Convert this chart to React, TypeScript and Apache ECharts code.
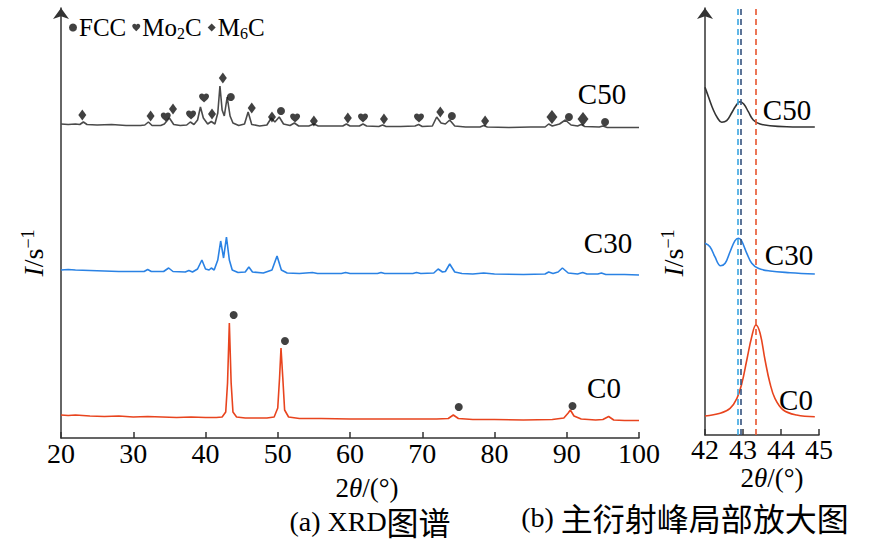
import * as echarts from "echarts";
import { useEffect, useRef } from "react";

const SERIF = "Liberation Serif";
const CJK = "Noto Sans CJK SC";

// full pattern, [2θ, intensity incl. vertical offset]
const c50Full: [number, number][] = [
  [20, 314], [21, 313.5], [22, 314], [22.6, 313.5], [23.1, 316], [23.6, 313.5], [25, 313], [27, 313.5],
  [29, 312.5], [31, 312.5], [31.6, 313], [32.1, 316], [32.6, 312.5], [33.8, 312.5], [34.3, 314], [35.0, 320],
  [35.6, 313.5], [36.5, 312.5], [37.4, 313], [37.9, 316], [38.4, 313.5], [38.9, 318], [39.3, 331], [39.7, 320],
  [40.3, 314], [40.8, 316.5], [41.3, 314], [41.7, 325], [42.0, 352], [42.3, 328], [42.6, 322], [43.0, 341],
  [43.4, 322], [43.8, 315], [44.6, 312.5], [45.4, 314], [45.9, 326], [46.4, 313.5], [47.5, 312], [48.5, 313],
  [49.1, 320], [49.6, 316], [50.2, 321], [50.8, 314], [51.7, 312.5], [52.3, 315], [52.9, 312], [54.3, 312],
  [55.0, 314], [55.6, 312], [57, 312], [59, 312], [59.5, 314], [60, 312], [61.3, 312], [61.8, 314],
  [62.3, 312], [64.0, 311.5], [64.5, 313], [65.0, 311.5], [67, 311.5], [69, 312], [69.5, 313.5], [70.0, 311.5],
  [71.4, 312], [72.0, 321], [72.6, 315], [73.2, 314], [73.8, 318], [74.5, 312], [76, 311], [78, 311],
  [78.5, 312.5], [79, 311], [82, 310.5], [85, 311], [87.0, 311], [87.5, 314], [88.0, 312], [89.0, 314],
  [89.8, 318], [90.6, 313], [91.5, 312], [92.0, 313.5], [92.5, 311.5], [94.5, 311], [95.0, 312], [95.6, 310.5],
  [98, 310.5], [100, 310.5],
];

const c30Full: [number, number][] = [
  [20, 168], [21, 168.5], [22, 168], [24, 167.5], [26, 167], [28, 166.5], [30, 166.5], [31.5, 166.5],
  [32.0, 168.5], [32.5, 166.5], [34.2, 166.5], [34.9, 170], [35.5, 166.5], [37.2, 166], [37.7, 167.5], [38.2, 166],
  [38.9, 169], [39.5, 178], [40.0, 169], [40.5, 168], [40.8, 170], [41.2, 168], [41.7, 178], [42.1, 197],
  [42.5, 180], [42.9, 201], [43.3, 178], [43.7, 168], [44.5, 165.5], [45.5, 166], [46.0, 171], [46.5, 166],
  [48, 165], [49.2, 168], [49.9, 182], [50.5, 168], [51.3, 165], [53, 164.5], [54.8, 165.5], [55.5, 164.5],
  [58.8, 164.5], [59.4, 165.5], [60, 164.5], [63.8, 164.5], [64.3, 165.5], [64.8, 164.5], [68.7, 164.5], [69.2, 165.5],
  [69.8, 164.5], [71.6, 165], [72.2, 169], [72.8, 166], [73.2, 166.5], [73.8, 174], [74.5, 166], [75.5, 164.5],
  [77, 164], [78.5, 165], [80, 164], [84, 163.5], [87.0, 164], [87.5, 166], [88.1, 164.5], [88.8, 166],
  [89.4, 170], [90.2, 165], [91.5, 164], [92.2, 165.5], [92.8, 164], [94.3, 164], [94.8, 165], [95.4, 163.5],
  [98, 163.5], [100, 163],
];

const c0Full: [number, number][] = [
  [20, 23], [21, 22.5], [22, 23], [24, 22], [26, 21.5], [28, 22], [30, 21], [32, 21.5],
  [34, 21], [36, 20.5], [38, 21], [40, 20.5], [41.5, 20.5], [42.3, 21], [42.8, 26], [43.05, 55],
  [43.3, 115], [43.55, 55], [43.8, 26], [44.3, 21], [45.5, 20], [47, 20], [48.5, 20], [49.5, 21],
  [50.0, 30], [50.25, 60], [50.45, 90], [50.7, 60], [50.95, 28], [51.5, 21], [53, 19.5], [56, 19.5],
  [60, 19], [64, 19], [68, 19], [72, 19], [73.6, 19.5], [74.3, 23], [75, 19.5], [77, 18.5],
  [80, 18.5], [84, 18], [88, 18.5], [89.6, 20], [90.2, 25], [90.5, 28], [91.0, 22], [92, 19],
  [94, 18], [95.0, 18.5], [95.8, 21.5], [96.5, 18], [98, 17.5], [100, 17.5],
];

// zoomed main peak 42–45°
const c50Zoom: [number, number][] = [
  [42.0, 347.7], [42.09, 338.3], [42.22, 325], [42.33, 317], [42.44, 312.7], [42.57, 314.3], [42.7, 322],
  [42.81, 329], [42.92, 333.3], [43.02, 331], [43.14, 323.3], [43.27, 315], [43.45, 311], [43.71, 309.3],
  [44.15, 308.3], [44.89, 308],
];
const c30Zoom: [number, number][] = [
  [42.0, 191.7], [42.13, 188.3], [42.26, 178.3], [42.41, 169.3], [42.53, 171.7], [42.66, 183.3], [42.79, 194.3],
  [42.88, 196.7], [42.96, 194.3], [43.1, 181.7], [43.23, 171.7], [43.4, 166.7], [43.71, 164], [44.24, 162.3],
  [44.89, 161],
];
const c0Zoom: [number, number][] = [
  [42.0, 19], [42.4, 21.7], [42.66, 26.7], [42.84, 36.7], [42.97, 51.7], [43.1, 75], [43.23, 98.3],
  [43.34, 110], [43.45, 101.7], [43.58, 75], [43.71, 51.7], [43.84, 36.7], [44.06, 25], [44.41, 20],
  [44.89, 18.3],
];

// phase markers
const fccMarks: [number, number][] = [
  [43.5, 341], [50.45, 327], [74.1, 322], [90.3, 321], [95.3, 316],
  [43.9, 123], [51.0, 97], [75.05, 31], [90.8, 32],
];
const mo2cMarks: [number, number][] = [
  [34.5, 321], [38.0, 323], [39.8, 340], [52.4, 320], [61.8, 320], [69.55, 320],
];
const m6cMarks: [number, number][] = [
  [22.95, 323], [32.4, 322], [35.5, 329], [40.9, 324], [42.4, 360], [46.4, 330],
  [49.2, 321], [55.0, 317], [59.7, 320], [64.7, 319], [72.5, 326], [78.7, 317],
];
const m6cMarksLarge: [number, number][] = [[87.95, 321], [92.25, 319]];

const peakLines = [42.87, 42.95, 43.33];
const peakLineColors = ["#3aa6e2", "#34527e", "#e8542e"];

const HEART =
  "path://M12,21.35L10.55,20.03C5.4,15.36,2,12.28,2,8.5C2,5.42,4.42,3,7.5,3C9.24,3,10.91,3.81,12,5.09C13.09,3.81,14.76,3,16.5,3C19.58,3,22,5.42,22,8.5C22,12.28,18.6,15.36,13.45,20.04L12,21.35Z";

const GRAY = "#4a4a4a";
const BLUE = "#2a82e4";
const RED = "#e8441e";

export default function App() {
  const ref = useRef<HTMLDivElement | null>(null);

  useEffect(() => {
    if (!ref.current) return;
    const chart = echarts.init(ref.current, null, { renderer: "svg" });

    const axisLineStyle = { color: "#333", width: 1.5 };
    const tickLabel = (margin: number) => ({
      show: true,
      margin,
      formatter: "{t|{value}}",
      rich: {
        t: { fontFamily: SERIF, fontSize: 28, color: "#000", lineHeight: 28 },
      },
    });
    const xAxisBase = {
      type: "value" as const,
      axisLine: { lineStyle: axisLineStyle },
      axisTick: { inside: true, length: 6, lineStyle: axisLineStyle },
      splitLine: { show: false },
    };
    const yAxisBase = {
      type: "value" as const,
      axisLine: {
        show: true,
        lineStyle: axisLineStyle,
        symbol: ["none", "arrow"],
        symbolSize: [12, 11],
      },
      axisTick: { show: false },
      axisLabel: { show: false },
      splitLine: { show: false },
    };

    const textEl = (text: string, x: number, y: number, size = 28, extra = {}) => ({
      type: "text",
      x,
      y,
      style: {
        text,
        fill: "#000",
        fontFamily: SERIF,
        fontSize: size,
        align: "center",
        verticalAlign: "middle",
        textAlign: "center",
        textVerticalAlign: "middle",
        ...extra,
      },
    });

    const axisNameRich = {
      n: { fontFamily: SERIF, fontSize: 27, fill: "#000" },
      i: { fontFamily: SERIF, fontSize: 27, fontStyle: "italic", fill: "#000" },
    };
    const yNameRich = {
      i: { fontFamily: SERIF, fontSize: 28, fontStyle: "italic", fill: "#000" },
      n: { fontFamily: SERIF, fontSize: 28, fill: "#000" },
      sup: { fontFamily: SERIF, fontSize: 18, fill: "#000", verticalAlign: "top" },
    };
    const captionRich = {
      l: { fontFamily: SERIF, fontSize: 28, fill: "#000" },
      c: { fontFamily: CJK, fontSize: 32, fill: "#000" },
    };

    const lineSeries = (name: string, data: [number, number][], color: string, idx: number, smooth: boolean) => ({
      name,
      type: "line",
      xAxisIndex: idx,
      yAxisIndex: idx,
      data,
      smooth: smooth ? 0.4 : false,
      symbol: "none",
      lineStyle: { color, width: 1.6 },
      silent: true,
    });

    const option: echarts.EChartsOption = {
      animation: false,
      backgroundColor: "#fff",
      textStyle: { fontFamily: SERIF },
      grid: [
        { left: 61, right: 255, top: 8, bottom: 110 },
        { left: 705, right: 75, top: 8, bottom: 113 },
      ],
      xAxis: [
        {
          ...xAxisBase,
          gridIndex: 0,
          min: 20,
          max: 100,
          interval: 10,
          axisLabel: tickLabel(1),
        },
        {
          ...xAxisBase,
          gridIndex: 1,
          min: 42,
          max: 45,
          interval: 1,
          axisLabel: tickLabel(0),
        },
      ],
      yAxis: [
        { ...yAxisBase, gridIndex: 0, min: 0, max: 430 },
        { ...yAxisBase, gridIndex: 1, min: 0, max: 427 },
      ],
      legend: {
        left: 64,
        top: 10,
        itemWidth: 8,
        itemHeight: 8,
        itemGap: 6,
        selectedMode: false,
        data: [
          { name: "FCC", icon: "circle" },
          { name: "Mo2C", icon: HEART },
          { name: "M6C", icon: "diamond" },
        ],
        formatter: (name: string) => {
          if (name === "Mo2C") return "{n|Mo}{s|2}{n|C}";
          if (name === "M6C") return "{n|M}{s|6}{n|C}";
          return "{n|" + name + "}";
        },
        textStyle: {
          padding: [0, 0, 0, -3],
          rich: {
            n: { fontFamily: SERIF, fontSize: 25, color: "#000", lineHeight: 28 },
            s: { fontFamily: SERIF, fontSize: 16, color: "#000", verticalAlign: "bottom", lineHeight: 16 },
          },
        },
      },
      series: [
        lineSeries("C50", c50Full, GRAY, 0, false),
        lineSeries("C30", c30Full, BLUE, 0, false),
        lineSeries("C0", c0Full, RED, 0, false),
        lineSeries("C50z", c50Zoom, "#333", 1, true),
        lineSeries("C30z", c30Zoom, BLUE, 1, true),
        {
          ...lineSeries("C0z", c0Zoom, RED, 1, true),
          markLine: {
            silent: true,
            symbol: "none",
            label: { show: false },
            data: peakLines.map((v, i) => ({
              xAxis: v,
              lineStyle: { color: peakLineColors[i], type: [6, 4], width: 1.6 },
            })),
          },
        },
        {
          name: "FCC",
          type: "scatter",
          data: fccMarks,
          symbol: "circle",
          symbolSize: 8,
          itemStyle: { color: "#111" },
          z: 5,
        },
        {
          name: "Mo2C",
          type: "scatter",
          data: mo2cMarks,
          symbol: HEART,
          symbolSize: [10, 9],
          itemStyle: { color: "#111" },
          z: 5,
        },
        {
          name: "M6C",
          type: "scatter",
          data: m6cMarks,
          symbol: "diamond",
          symbolSize: [8, 11],
          itemStyle: { color: "#111" },
          z: 5,
        },
        {
          name: "M6C",
          type: "scatter",
          data: m6cMarksLarge,
          symbol: "diamond",
          symbolSize: [11, 14],
          itemStyle: { color: "#111" },
          z: 5,
        },
      ],
      graphic: [
        textEl("C50", 602, 94, 29),
        textEl("C30", 608, 243, 29),
        textEl("C0", 604, 388, 29),
        textEl("C50", 787, 110, 29),
        textEl("C30", 789, 255, 29),
        textEl("C0", 796, 400, 29),
        textEl("{n|2}{i|θ}{n|/(°)}", 367, 488, 27, { rich: axisNameRich }),
        textEl("{n|2}{i|θ}{n|/(°)}", 772, 478, 27, { rich: axisNameRich }),
        { ...textEl("{i|I}{n|/s}{sup|−1}", 33, 253, 28, { rich: yNameRich }), rotation: Math.PI / 2 },
        { ...textEl("{i|I}{n|/s}{sup|−1}", 673, 253, 28, { rich: yNameRich }), rotation: Math.PI / 2 },
        textEl("{l|(a) XRD}{c|图谱}", 370, 521, 28, { rich: captionRich }),
        textEl("{l|(b) }{c|主衍射峰局部放大图}", 685, 517, 28, { rich: captionRich }),
      ],
    };

    chart.setOption(option);
    return () => chart.dispose();
  }, []);

  return (
    <div
      ref={ref}
      style={{ width: 894, height: 548, position: "absolute", left: 0, top: 0 }}
    />
  );
}
